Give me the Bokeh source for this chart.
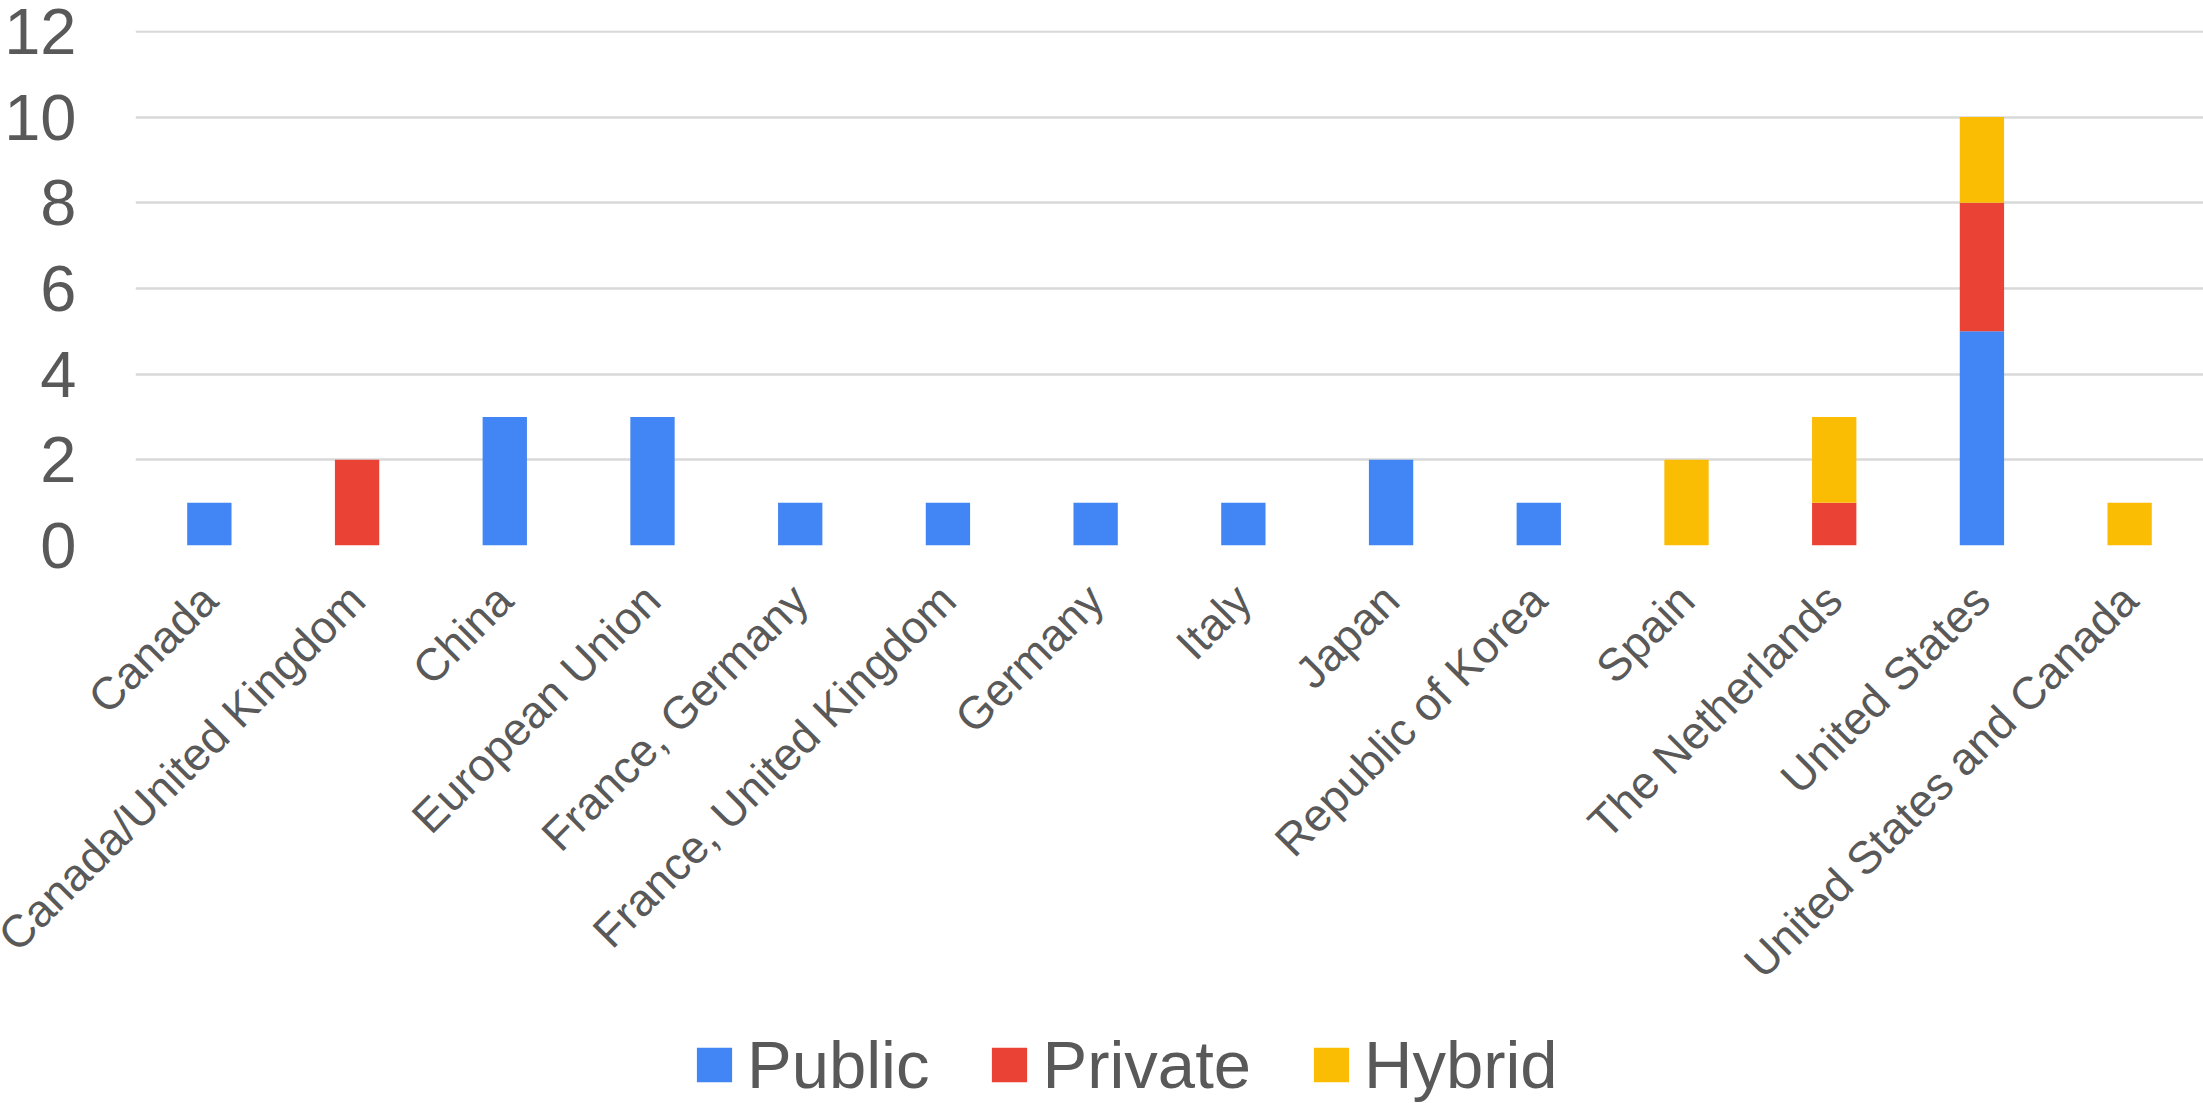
from bokeh.plotting import figure
from bokeh.layouts import column
from bokeh.models import ColumnDataSource, Range1d, FixedTicker, Legend, LegendItem
from bokeh.embed import file_html
from bokeh.resources import INLINE
import math

categories = ["Canada", "Canada/United Kingdom", "China", "European Union",
              "France, Germany", "France, United Kingdom", "Germany", "Italy",
              "Japan", "Republic of Korea", "Spain", "The Netherlands",
              "United States", "United States and Canada"]
public = [1, 0, 3, 3, 1, 1, 1, 1, 2, 1, 0, 0, 5, 0]
private = [0, 2, 0, 0, 0, 0, 0, 0, 0, 0, 0, 1, 3, 0]
hybrid = [0, 0, 0, 0, 0, 0, 0, 0, 0, 0, 2, 2, 2, 1]
series = ["Public", "Private", "Hybrid"]
colors = ["#4285F4", "#EA4335", "#FBBC04"]
y_ticks = [0, 2, 4, 6, 8, 10, 12]

FONT = "Liberation Sans"
TXT = "#595959"

W = 2203
H_MAIN, H_LEG = 1028, 75

source = ColumnDataSource(dict(cat=categories, Public=public, Private=private, Hybrid=hybrid))

# ---- main chart -------------------------------------------------------------
p = figure(x_range=categories, y_range=Range1d(0, 12.02), width=W, height=H_MAIN,
           output_backend="svg", toolbar_location=None,
           min_border_left=135, min_border_top=30, min_border_right=0,
           min_border_bottom=H_MAIN - 545)
p.outline_line_color = None
p.background_fill_color = "white"
p.border_fill_color = "white"

p.vbar_stack(series, x="cat", width=0.3, color=colors, line_color=None, source=source)

p.xgrid.grid_line_color = None
p.ygrid.grid_line_color = "#d9d9d9"
p.ygrid.grid_line_width = 2.5
p.yaxis.ticker = FixedTicker(ticks=y_ticks)

for ax in (p.xaxis, p.yaxis):
    ax.axis_line_color = None
    ax.major_tick_line_color = None
    ax.minor_tick_line_color = None
    ax.major_label_text_font = FONT
    ax.major_label_text_color = TXT

p.yaxis.major_label_text_font_size = "65px"
p.yaxis.major_label_standoff = 53
p.xaxis.major_label_text_font_size = "45.5px"
p.xaxis.major_label_orientation = math.pi / 4
p.xaxis.major_label_standoff = 41

# ---- legend strip -----------------------------------------------------------
lg = figure(x_range=categories, y_range=Range1d(100, 101), width=W, height=H_LEG,
            output_backend="svg", toolbar_location=None,
            min_border_left=0, min_border_top=0, min_border_right=0, min_border_bottom=0)
lg.outline_line_color = None
lg.axis.visible = False
lg.grid.visible = False
lg.background_fill_color = "white"
lg.border_fill_color = "white"
swatches = lg.vbar_stack(series, x="cat", width=0.3, color=colors, line_color=None, source=source)

legend = Legend(items=[LegendItem(label=s, renderers=[r]) for s, r in zip(series, swatches)],
                orientation="horizontal", location=(557, 0),
                label_text_font=FONT, label_text_font_size="67px", label_text_color=TXT,
                glyph_width=44, glyph_height=43, label_standoff=11, spacing=58,
                padding=0, margin=0, border_line_color=None, background_fill_alpha=0)
lg.add_layout(legend, "center")

layout = column(p, lg, spacing=0)
open("out.html", "w").write(file_html(layout, INLINE))
